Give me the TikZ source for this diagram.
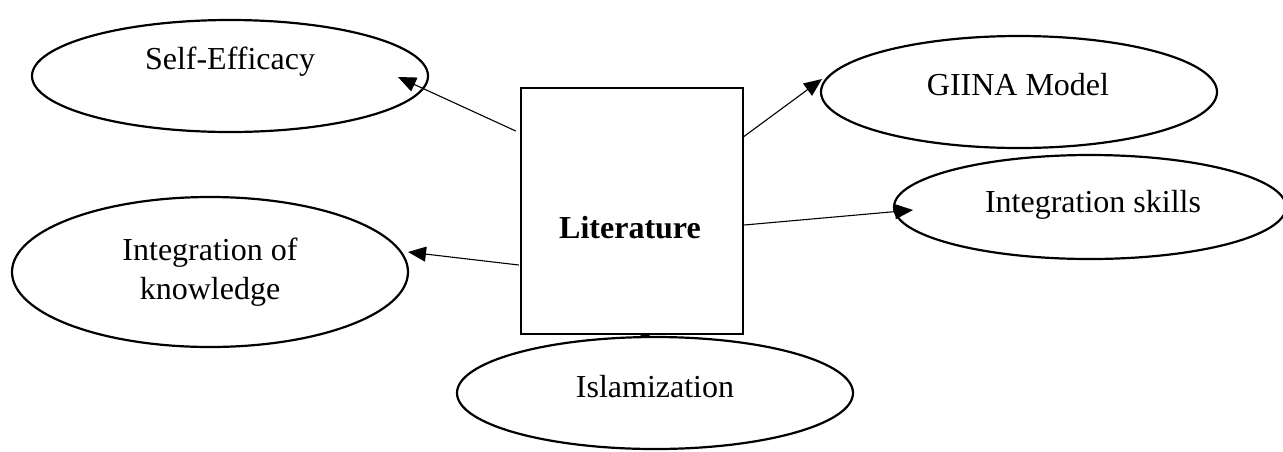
\documentclass[tikz,border=0pt]{standalone}
\usepackage{fontspec}
\setmainfont{Liberation Serif}
\usetikzlibrary{shapes.geometric,arrows.meta}
\begin{document}
\begin{tikzpicture}[x=1pt,y=-1pt,
  oval/.style={draw,ellipse,line width=2.2pt,inner sep=0pt},
  litbox/.style={draw,rectangle,line width=2.5pt,inner sep=0pt,minimum width=222pt,minimum height=246pt},
  lbl/.style={font=\fontsize{32}{39}\selectfont,align=center,inner sep=0pt},
  conn/.style={line width=1.1pt,-{Triangle[length=18pt,width=15pt]}}]
\useasboundingbox (0,0) rectangle (1283,451);
\node[litbox] (lit) at (632,211) {};
\node[lbl,font=\fontsize{32}{39}\selectfont\bfseries] (littxt) at (630,228) {Literature};
\node[oval,minimum width=396pt,minimum height=112pt] (se) at (230,76) {};
\node[lbl] (setxt) at (230,62) {Self-Efficacy};
\node[oval,minimum width=396pt,minimum height=112pt] (gi) at (1019,92) {};
\node[lbl] (gitxt) at (1018,85) {GIINA Model};
\node[oval,minimum width=392pt,minimum height=104pt] (is) at (1090,207) {};
\node[lbl] (istxt) at (1093,205) {Integration skills};
\node[oval,minimum width=396pt,minimum height=150pt] (kn) at (210,272) {};
\node[lbl] (kntxt) at (210,272) {Integration of\\knowledge};
\node[oval,minimum width=396pt,minimum height=112pt] (isl) at (655,393) {};
\node[lbl] (isltxt) at (655,387) {Islamization};
\draw[conn] ([shift={(-4,-80)}]lit.west) -- ([shift={(168,1)}]se.center);
\draw[conn] ([shift={(-1,-74)}]lit.east) -- ([shift={(-197,-13)}]gi.center);
\draw[conn] ([shift={(0,14)}]lit.east) -- ([shift={(-177,3)}]is.center);
\draw[conn] ([shift={(-1,54)}]lit.west) -- ([shift={(198,-20)}]kn.center);
\draw[line width=1pt,-{Triangle[length=4pt,width=14pt]}] ([shift={(13,0)}]lit.south) -- ([shift={(-10,-55)}]isl.center);
\end{tikzpicture}
\end{document}
